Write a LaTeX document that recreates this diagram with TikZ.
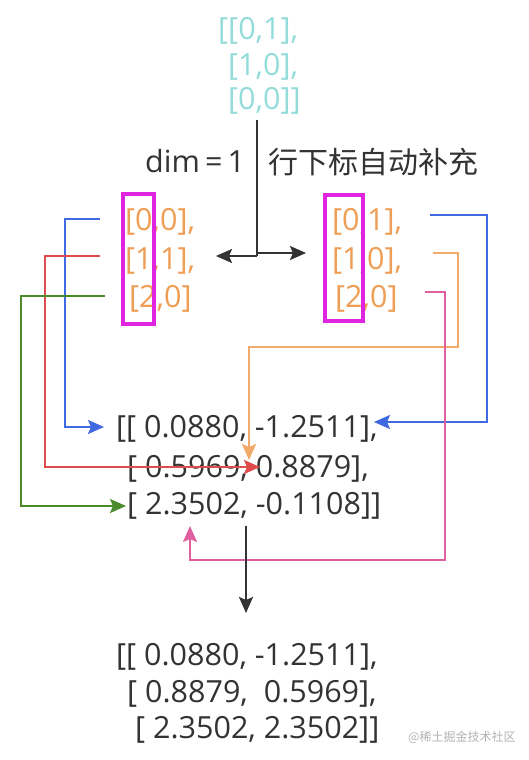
\documentclass[tikz,border=0pt]{standalone}
\usepackage{fontspec}
\setmainfont{Open Sans}
\newfontfamily\cjk{Noto Sans CJK SC}
\usetikzlibrary{arrows.meta}
\definecolor{txtdark}{HTML}{333333}
\definecolor{cyantxt}{HTML}{93DCDA}
\definecolor{orangetxt}{HTML}{EE9E55}
\definecolor{magbox}{HTML}{E024E0}
\definecolor{cblue}{HTML}{4169E1}
\definecolor{cred}{HTML}{E04B4B}
\definecolor{cgreen}{HTML}{4A8B2C}
\definecolor{corange}{HTML}{F2AA6A}
\definecolor{cpink}{HTML}{E0609F}
\begin{document}
\begin{tikzpicture}[x=1pt,y=-1pt,
  txt/.style={anchor=base west, inner sep=0pt, font=\fontsize{30.5}{30.5}\selectfont, text=txtdark},
  cyan txt/.style={txt, text=cyantxt},
  orange txt/.style={txt, text=orangetxt},
  selbox/.style={draw=magbox, line width=3.2pt},
  conn/.style={line width=1.9pt, -{Stealth[length=16pt,width=14pt,inset=3pt]}},
  blackline/.style={draw=txtdark, line width=2.3pt},
  blackarrow/.style={blackline, -{Stealth[length=16pt,width=14pt,inset=3pt]}}]
\useasboundingbox (0,0) rectangle (529,760);

% top indices
\node[cyan txt] (t1) at (218,40) {[[0,1],};
\node[cyan txt] (t2) at (228,75) {[1,0],};
\node[cyan txt] (t3) at (228,109) {[0,0]]};

% labels
\node[txt] (dim) at (145,172) {dim\,=\,1};
\node[txt, anchor=base west, font=\cjk\fontsize{30}{30}\selectfont] (cn) at (268,173) {行下标自动补充};

% left matrix
\node[orange txt] (l1) at (125,230) {[0,0],};
\node[orange txt] (l2) at (125,269) {[1,1],};
\node[orange txt] (l3) at (129,307) {[2,0]};
\node[selbox, inner sep=0pt, minimum width=31pt, minimum height=130pt] (lbox) at (138.5,259) {};

% right matrix
\node[orange txt] (r1) at (332,230) {[0,1],};
\node[orange txt] (r2) at (332,269) {[1,0],};
\node[orange txt] (r3) at (335,307) {[2,0]};
\node[selbox, inner sep=0pt, minimum width=38pt, minimum height=126pt] (rbox) at (344,258) {};

% middle matrix
\node[txt] (m1) at (116,437) {[[ 0.0880, -1.2511],};
\node[txt] (m2) at (127,477) {[ 0.5969, 0.8879],};
\node[txt] (m3) at (127,514) {[ 2.3502, -0.1108]]};

% bottom matrix
\node[txt] (b1) at (116,665) {[[ 0.0880, -1.2511],};
\node[txt] (b2) at (127,702) {[ 0.8879,\ \ 0.5969],};
\node[txt] (b3) at (135,738) {[ 2.3502, 2.3502]]};

% watermark
\node[anchor=base west, inner sep=0pt, text=black!30, font=\cjk\fontsize{12}{12}\selectfont] (wm) at (408,741) {@稀土掘金技术社区};

% black split arrows
\coordinate (vtop) at (257,120);
\coordinate (junc) at (257,256);
\coordinate (ltip) at (216,256);
\coordinate (rtip) at (306,253);
\draw[blackline] (vtop) -- (junc);
\draw[blackarrow] (junc) -- (ltip);
\draw[blackarrow] (257,253) -- (rtip);

% left connectors
\coordinate (bl0) at (100,219);
\coordinate (bl1) at (104,427);
\draw[conn, cblue] (bl0) -- (65,219) -- (65,427) -- (bl1);
\coordinate (rd0) at (100,256);
\coordinate (rd1) at (260,467);
\draw[conn, cred] (rd0) -- (45,256) -- (45,467) -- (rd1);
\coordinate (gr0) at (105,296);
\coordinate (gr1) at (126,506);
\draw[conn, cgreen] (gr0) -- (21,296) -- (21,506) -- (gr1);

% right connectors
\coordinate (br0) at (430,215);
\coordinate (br1) at (374,422);
\draw[conn, cblue] (br0) -- (487,215) -- (487,422) -- (br1);
\coordinate (or0) at (433,253);
\coordinate (or1) at (249,460);
\draw[conn, corange] (or0) -- (458,253) -- (458,347) -- (249,347) -- (or1);
\coordinate (pk0) at (425,292);
\coordinate (pk1) at (190,526);
\draw[conn, cpink] (pk0) -- (445,292) -- (445,560) -- (190,560) -- (pk1);

% down arrow
\coordinate (d0) at (246,526);
\coordinate (d1) at (246,613);
\draw[blackarrow] (d0) -- (d1);
\end{tikzpicture}
\end{document}
